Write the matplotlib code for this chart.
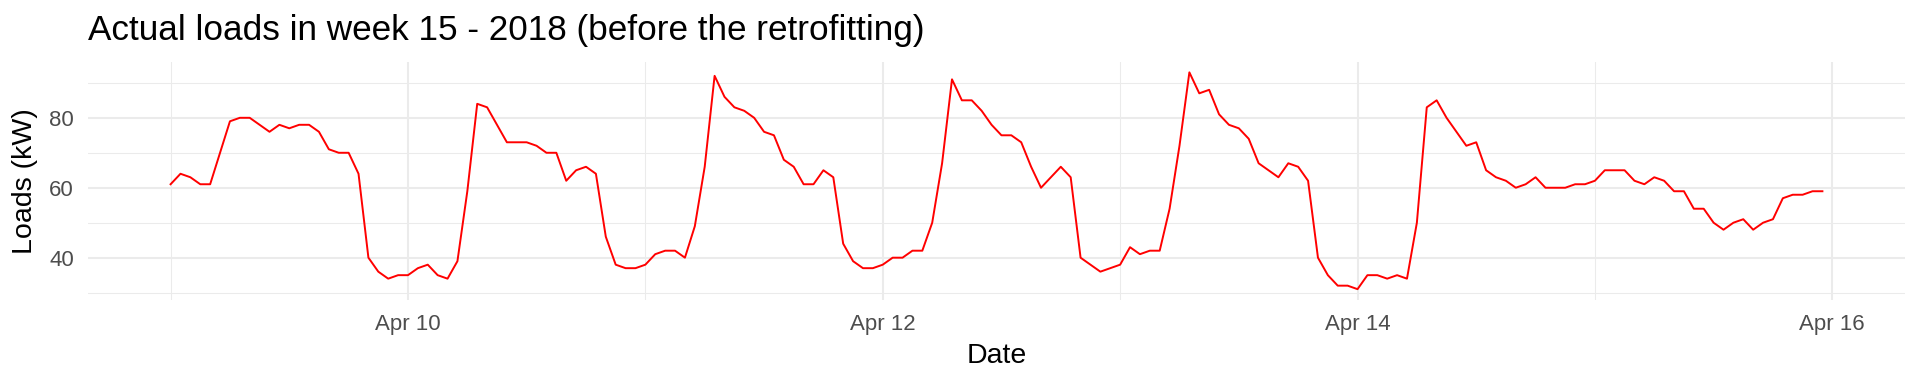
import numpy as np
import pandas as pd
import matplotlib
matplotlib.use("Agg")
import matplotlib.pyplot as plt
import matplotlib.dates as mdates

plt.rcParams['font.family'] = ['Liberation Sans', 'DejaVu Sans']

# hourly loads, week 15 of 2018 (Apr 9 00:00 .. Apr 15 23:00)
start = "2018-04-09 00:00"
day_mon = [61, 64, 63, 61, 61, 70, 79, 80, 80, 78, 76, 78, 77, 78, 78, 76, 71, 70, 70, 64, 40, 36, 34, 35]
day_tue = [35, 37, 38, 35, 34, 39, 59, 84, 83, 78, 73, 73, 73, 72, 70, 70, 62, 65, 66, 64, 46, 38, 37, 37]
day_wed = [38, 41, 42, 42, 40, 49, 66, 92, 86, 83, 82, 80, 76, 75, 68, 66, 61, 61, 65, 63, 44, 39, 37, 37]
day_thu = [38, 40, 40, 42, 42, 50, 67, 91, 85, 85, 82, 78, 75, 75, 73, 66, 60, 63, 66, 63, 40, 38, 36, 37]
day_fri = [38, 43, 41, 42, 42, 54, 72, 93, 87, 88, 81, 78, 77, 74, 67, 65, 63, 67, 66, 62, 40, 35, 32, 32]
day_sat = [31, 35, 35, 34, 35, 34, 50, 83, 85, 80, 76, 72, 73, 65, 63, 62, 60, 61, 63, 60, 60, 60, 61, 61]
day_sun = [62, 65, 65, 65, 62, 61, 63, 62, 59, 59, 54, 54, 50, 48, 50, 51, 48, 50, 51, 57, 58, 58, 59, 59]

loads = day_mon + day_tue + day_wed + day_thu + day_fri + day_sat + day_sun
dates = pd.date_range(start, periods=len(loads), freq="h")

fig = plt.figure(figsize=(19.2, 3.84), dpi=100)
ax = fig.add_axes([88 / 1920, 1 - 300 / 384, (1905 - 88) / 1920, (300 - 61.5) / 384])

ax.plot(dates, loads, color="red", linewidth=1.4)

# ggplot-like expansion of 5 %
span = dates[-1] - dates[0]
ax.set_xlim(dates[0] - span * 0.05, dates[-1] + span * 0.05)
lo, hi = min(loads), max(loads)
ax.set_ylim(lo - (hi - lo) * 0.05, hi + (hi - lo) * 0.05)

ax.xaxis.set_major_locator(mdates.DayLocator(bymonthday=[10, 12, 14, 16]))
ax.xaxis.set_minor_locator(mdates.DayLocator(bymonthday=[9, 11, 13, 15]))
ax.xaxis.set_major_formatter(mdates.DateFormatter("%b %d"))
ax.set_yticks([40, 60, 80])
ax.set_yticks([30, 50, 70, 90], minor=True)

ax.grid(which="major", color="#EBEBEB", linewidth=1.5)
ax.grid(which="minor", color="#EBEBEB", linewidth=0.75)
ax.set_axisbelow(True)
for s in ax.spines.values():
    s.set_visible(False)
ax.tick_params(which="both", length=0)
ax.tick_params(axis="y", labelsize=16, labelcolor="#4D4D4D", pad=10)
ax.tick_params(axis="x", labelsize=16, labelcolor="#4D4D4D", pad=10)

ax.set_xlabel("Date", fontsize=20.5, labelpad=6)
ax.set_ylabel("Loads (kW)", fontsize=20.5, labelpad=8)

fig.text(88 / 1920, 1 - 40 / 384, "Actual loads in week 15 - 2018 (before the retrofitting)",
         fontsize=25.3, ha="left", va="baseline")

fig.savefig("out.png", dpi=100)
